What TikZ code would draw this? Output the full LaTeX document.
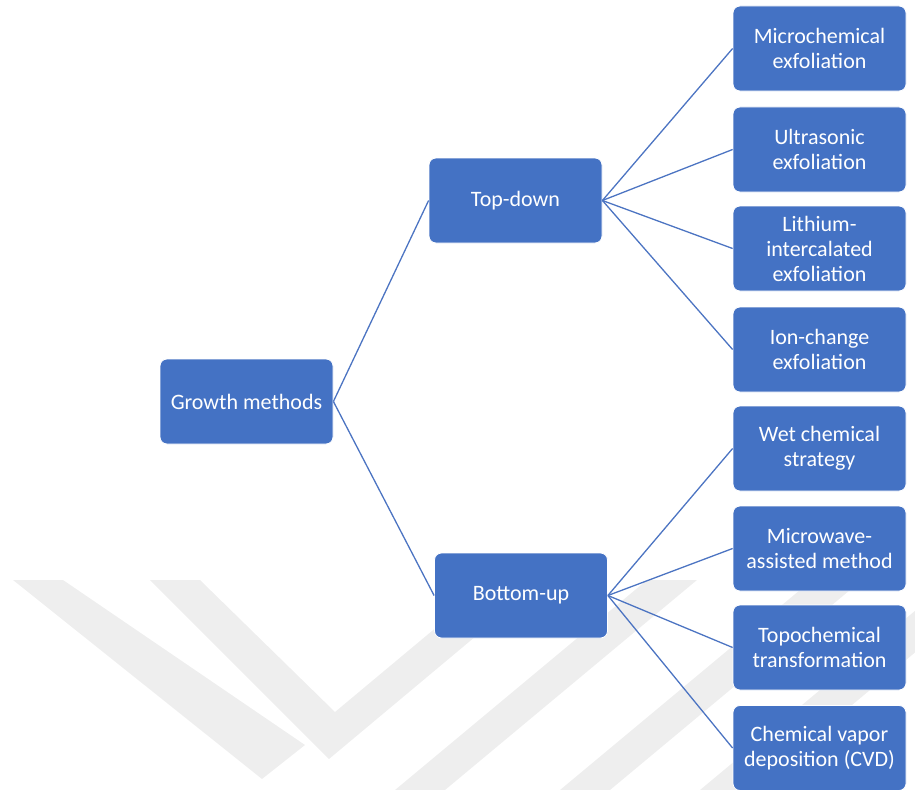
\documentclass[tikz,border=0pt]{standalone}
\usepackage{fontspec}
\setmainfont{Carlito}
\definecolor{boxblue}{RGB}{68,114,196}
\definecolor{lineblue}{RGB}{76,116,194}
\definecolor{wmgray}{RGB}{238,238,238}
\begin{document}
\begin{tikzpicture}[x=1bp,y=-1bp,
  box/.style={rectangle, rounded corners=7bp, fill=boxblue, draw=white, line width=0.8bp,
    minimum width=173bp, minimum height=85bp, align=center,
    inner sep=0pt, text=white, font=\fontsize{22bp}{25bp}\selectfont},
  link/.style={draw=lineblue, line width=1.3bp}]
\useasboundingbox (0,0) rectangle (915,790);
% faint background watermark stripes
\begin{scope}
\clip (0,580) rectangle (915,790);
\fill[wmgray] (13,580) -- (63,580) -- (305,745) -- (262,779) -- cycle;
\fill[wmgray] (150,580) -- (200,580) -- (335,712) -- (493,580) -- (543,580) -- (329,759) -- cycle;
\fill[wmgray] (395,790) -- (647,580) -- (697,580) -- (445,790) -- cycle;
\fill[wmgray] (560,790) -- (812,580) -- (862,580) -- (610,790) -- cycle;
\fill[wmgray] (700,790) -- (952,580) -- (1002,580) -- (750,790) -- cycle;
\end{scope}
% nodes
\node[box] (gm) at (246.5,401.5) {Growth methods};
\node[box] (td) at (515.5,200.5) {Top-down};
\node[box] (bu) at (521,595.5) {Bottom-up};
\node[box] (t1) at (819.5,48.5) {Microchemical\\exfoliation};
\node[box] (t2) at (819.5,149.5) {Ultrasonic\\exfoliation};
\node[box] (t3) at (819.5,248.5) {Lithium-\\intercalated\\exfoliation};
\node[box] (t4) at (819.5,349.5) {Ion-change\\exfoliation};
\node[box] (b1) at (819.5,448.5) {Wet chemical\\strategy};
\node[box] (b2) at (819.5,548.5) {Microwave-\\assisted method};
\node[box] (b3) at (819.5,647.5) {Topochemical\\transformation};
\node[box] (b4) at (819.5,748) {Chemical vapor\\deposition (CVD)};
% connectors
\foreach \t in {td,bu} \draw[link] (gm.east) -- (\t.west);
\foreach \t in {t1,t2,t3,t4} \draw[link] (td.east) -- (\t.west);
\foreach \t in {b1,b2,b3,b4} \draw[link] (bu.east) -- (\t.west);
\end{tikzpicture}
\end{document}
